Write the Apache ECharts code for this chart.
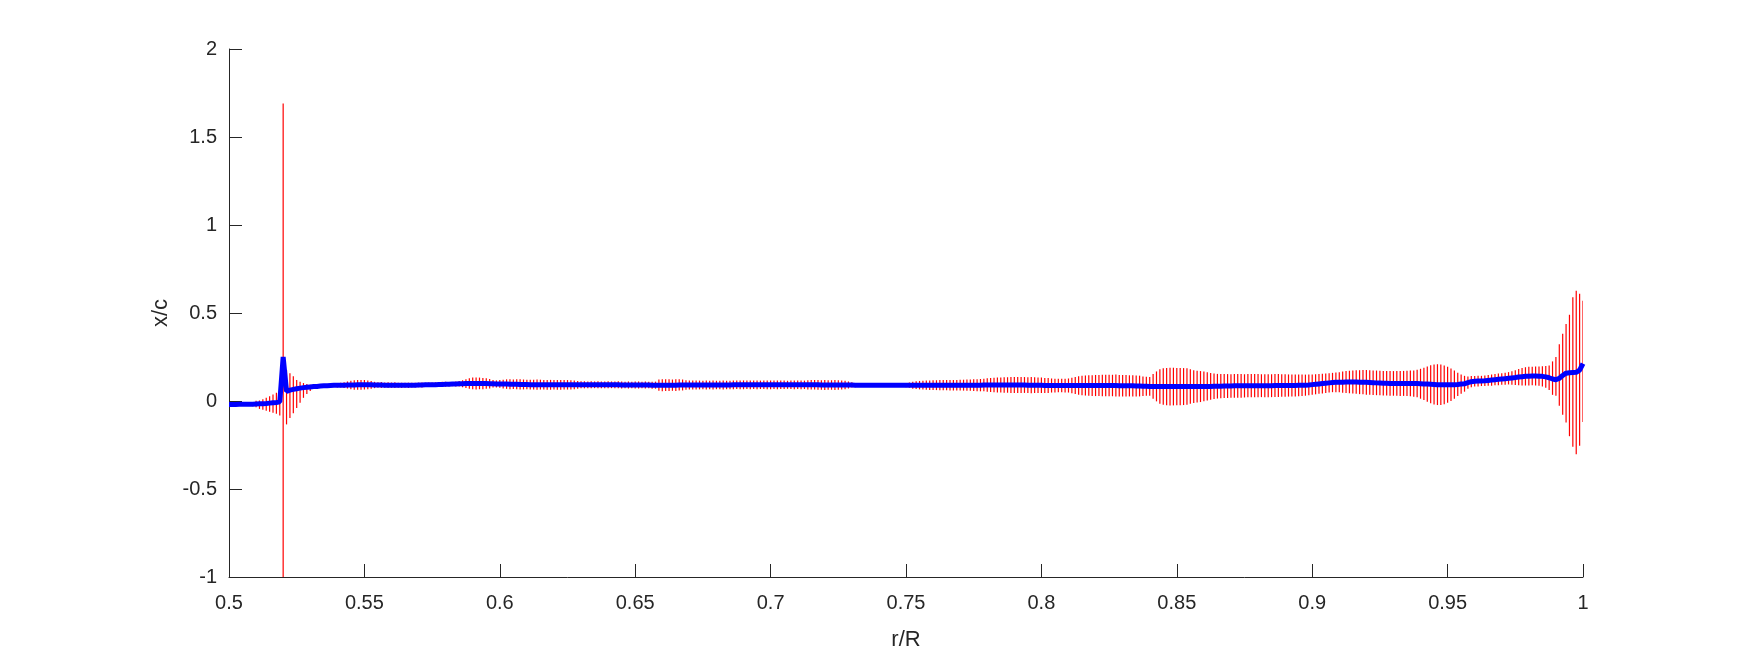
<!DOCTYPE html>
<html><head><meta charset="utf-8">
<script src="https://cdn.jsdelivr.net/npm/echarts@6/dist/echarts.min.js"></script>
<style>html,body{margin:0;padding:0;background:#fff}#c{width:1750px;height:656px}</style>
</head><body><div id="c"></div>
<script>
// x grid: r/R stations
const xStart = 0.5, xStep = 0.00125;
// blue line, x/c in thousandths
const lineY = [
-20,-20,-20,-19,-19,-19,-18,-18,-17,
-16,-15,-14,-12,-10,-8,-5,
250,
55,62,66,70,73,76,78,80,
82,83,85,86,87,88,89,89,90,90,91,91,91,92,92,92,
92,92,91,91,91,90,90,90,90,89,89,89,89,90,90,91,91,92,92,93,
93,94,94,95,95,96,97,98,98,99,99,100,100,100,99,99,98,98,97,97,
96,96,95,95,95,94,94,94,93,93,93,93,92,92,92,92,92,92,92,92,92,92,92,92,92,92,92,92,92,92,92,92,92,92,92,91,91,91,91,91,
91,91,91,91,90,90,90,90,90,90,90,90,91,91,91,91,91,91,91,91,91,91,91,91,91,91,91,91,92,92,92,92,92,92,92,92,92,92,92,92,
92,92,92,92,92,92,92,92,92,92,92,92,92,92,91,91,91,91,91,91,91,91,91,91,90,90,90,90,90,90,90,90,90,90,90,90,90,90,90,90,
90,90,90,90,90,90,90,90,90,90,90,90,90,90,90,90,90,90,90,90,90,90,91,91,91,91,91,91,91,91,91,91,91,91,91,90,90,90,89,89,
88,88,88,88,88,88,88,88,88,88,88,88,88,88,88,88,88,88,88,88,88,88,87,87,87,86,86,85,85,84,84,83,83,83,82,82,82,82,82,82,
82,82,82,82,82,82,82,83,83,83,84,84,84,85,85,85,86,86,86,86,87,87,87,87,87,87,87,87,88,88,
88,88,88,88,88,89,89,90,91,93,
95,97,99,101,103,105,106,107,107,108,
108,108,108,107,107,106,105,104,103,102,101,101,100,100,100,100,100,100,100,99,99,98,97,96,95,94,93,92,92,92,
92,93,94,96,98,104,110,112,113,114,115,117,119,121,123,125,127,129,131,133,
136,138,140,141,142,142,141,140,137,132,125,121,128,145,158,161,162,163,175,213
];
// red bars: half length in thousandths
const barHalf = [
4,4,5,5,6,7,
8,12,18,24,30,37,44,52,60,72,
1345,
155,127,105,80,60,42,28,18,
10,9,8,8,8,9,10,12,14,16,
20,24,27,28,28,27,25,22,
18,16,17,15,16,15,16,14,15,14,15,13,14,13,14,12,13,12,
13,14,15,14,13,12,
14,16,20,25,
30,33,34,33,32,30,27,
22,20,22,25,27,
28,27,28,29,28,27,28,28,29,28,27,28,28,27,28,28,27,27,26,25,
22,20,20,19,20,19,20,19,19,20,19,19,20,
20,19,20,19,20,20,19,20,19,20,20,
32,34,33,33,32,33,32,31,
27,26,26,25,25,24,25,24,25,24,24,25,24,24,25,24,25,25,24,25,24,25,24,24,25,25,24,25,24,24,23,24,25,24,25,24,
26,27,27,28,27,28,27,27,28,27,26,24,
20,15,12,10,
8,7,8,7,7,8,7,8,7,8,8,9,10,12,15,
20,22,24,25,26,27,28,28,29,29,29,30,30,30,31,31,32,32,33,34,35,
36,38,40,41,42,43,44,44,45,45,45,46,45,45,46,45,44,44,43,42,
40,39,38,38,39,40,
44,48,52,55,57,58,59,60,60,61,61,61,61,62,61,61,61,60,60,60,59,55,54,53,
70,85,98,104,106,107,
107,106,106,105,104,
98,93,90,88,85,
80,76,72,70,69,68,68,67,67,67,67,66,66,66,66,66,65,65,65,65,65,65,64,64,63,63,62,62,61,60,59,58,57,56,56,55,55,55,56,57,
60,62,64,66,67,68,69,70,70,70,70,70,70,70,70,70,70,71,71,72,73,75,78,
85,92,100,108,114,116,115,110,102,
92,80,66,55,45,
35,32,30,30,29,30,31,32,32,33,
33,34,35,38,42,46,50,52,53,
53,54,55,58,62,70,
95,110,175,230,280,345,425,465,432,345
];
// bar centres that differ from the blue line: [index, centre in thousandths]
const barCenterFix = [
[9,-21],[10,-20],[11,-19],[12,-17],[13,-15],[14,-13],[15,-10],
[16,345],
[17,22],[18,30],[19,35],[20,40],[21,50],[22,60],[23,68],[24,75],
[391,130],[392,140],[393,148],[394,152],[395,158],[396,145],[397,165],[398,162],[399,178],[400,225]
];

const fix = {};
barCenterFix.forEach(([i, c]) => { fix[i] = c; });
const n = Math.min(lineY.length, barHalf.length);
const lineData = [], barData = [];
for (let i = 0; i < n; i++) {
  const x = +(xStart + i * xStep).toFixed(5);
  lineData.push([x, lineY[i] / 1000]);
  const c = (fix[i] !== undefined) ? fix[i] : lineY[i];
  barData.push([x, (c - barHalf[i]) / 1000, (c + barHalf[i]) / 1000]);
}

const txt = '#262626';
const font = 'Liberation Sans, Arial, Helvetica, sans-serif';
const chart = echarts.init(document.getElementById('c'), null, {renderer: 'canvas'});
chart.setOption({
  animation: false,
  backgroundColor: '#ffffff',
  grid: {left: 229, right: 167, top: 49, bottom: 74, containLabel: false},
  xAxis: {
    type: 'value', min: 0.5, max: 1, interval: 0.05,
    name: 'r/R', nameLocation: 'middle', nameGap: 52,
    nameTextStyle: {color: txt, fontSize: 22, fontFamily: font},
    axisLine: {show: true, onZero: false, lineStyle: {color: txt, width: 1}},
    axisTick: {show: true, inside: true, length: 13, lineStyle: {color: txt, width: 1}},
    axisLabel: {color: txt, fontSize: 20, fontFamily: font, margin: 16},
    splitLine: {show: false}
  },
  yAxis: {
    type: 'value', min: -1, max: 2, interval: 0.5,
    name: 'x/c', nameLocation: 'middle', nameGap: 49,
    nameTextStyle: {color: txt, fontSize: 22, fontFamily: font},
    axisLine: {show: true, onZero: false, lineStyle: {color: txt, width: 1}},
    axisTick: {show: true, inside: true, length: 13, lineStyle: {color: txt, width: 1}},
    axisLabel: {color: txt, fontSize: 20, fontFamily: font, margin: 12},
    splitLine: {show: false}
  },
  series: [
    {
      type: 'custom', data: barData, clip: true, z: 2, silent: true,
      encode: {x: 0, y: [1, 2]},
      renderItem: function (params, api) {
        const x = api.value(0);
        const p1 = api.coord([x, api.value(1)]);
        const p2 = api.coord([x, api.value(2)]);
        return {type: 'line', shape: {x1: p1[0], y1: p1[1], x2: p2[0], y2: p2[1]},
                style: {stroke: '#ff0000', lineWidth: 1.2}};
      }
    },
    {
      type: 'line', data: lineData, showSymbol: false, z: 3, silent: true,
      lineStyle: {color: '#0000ff', width: 5}
    }
  ]
});
</script>
</body></html>
